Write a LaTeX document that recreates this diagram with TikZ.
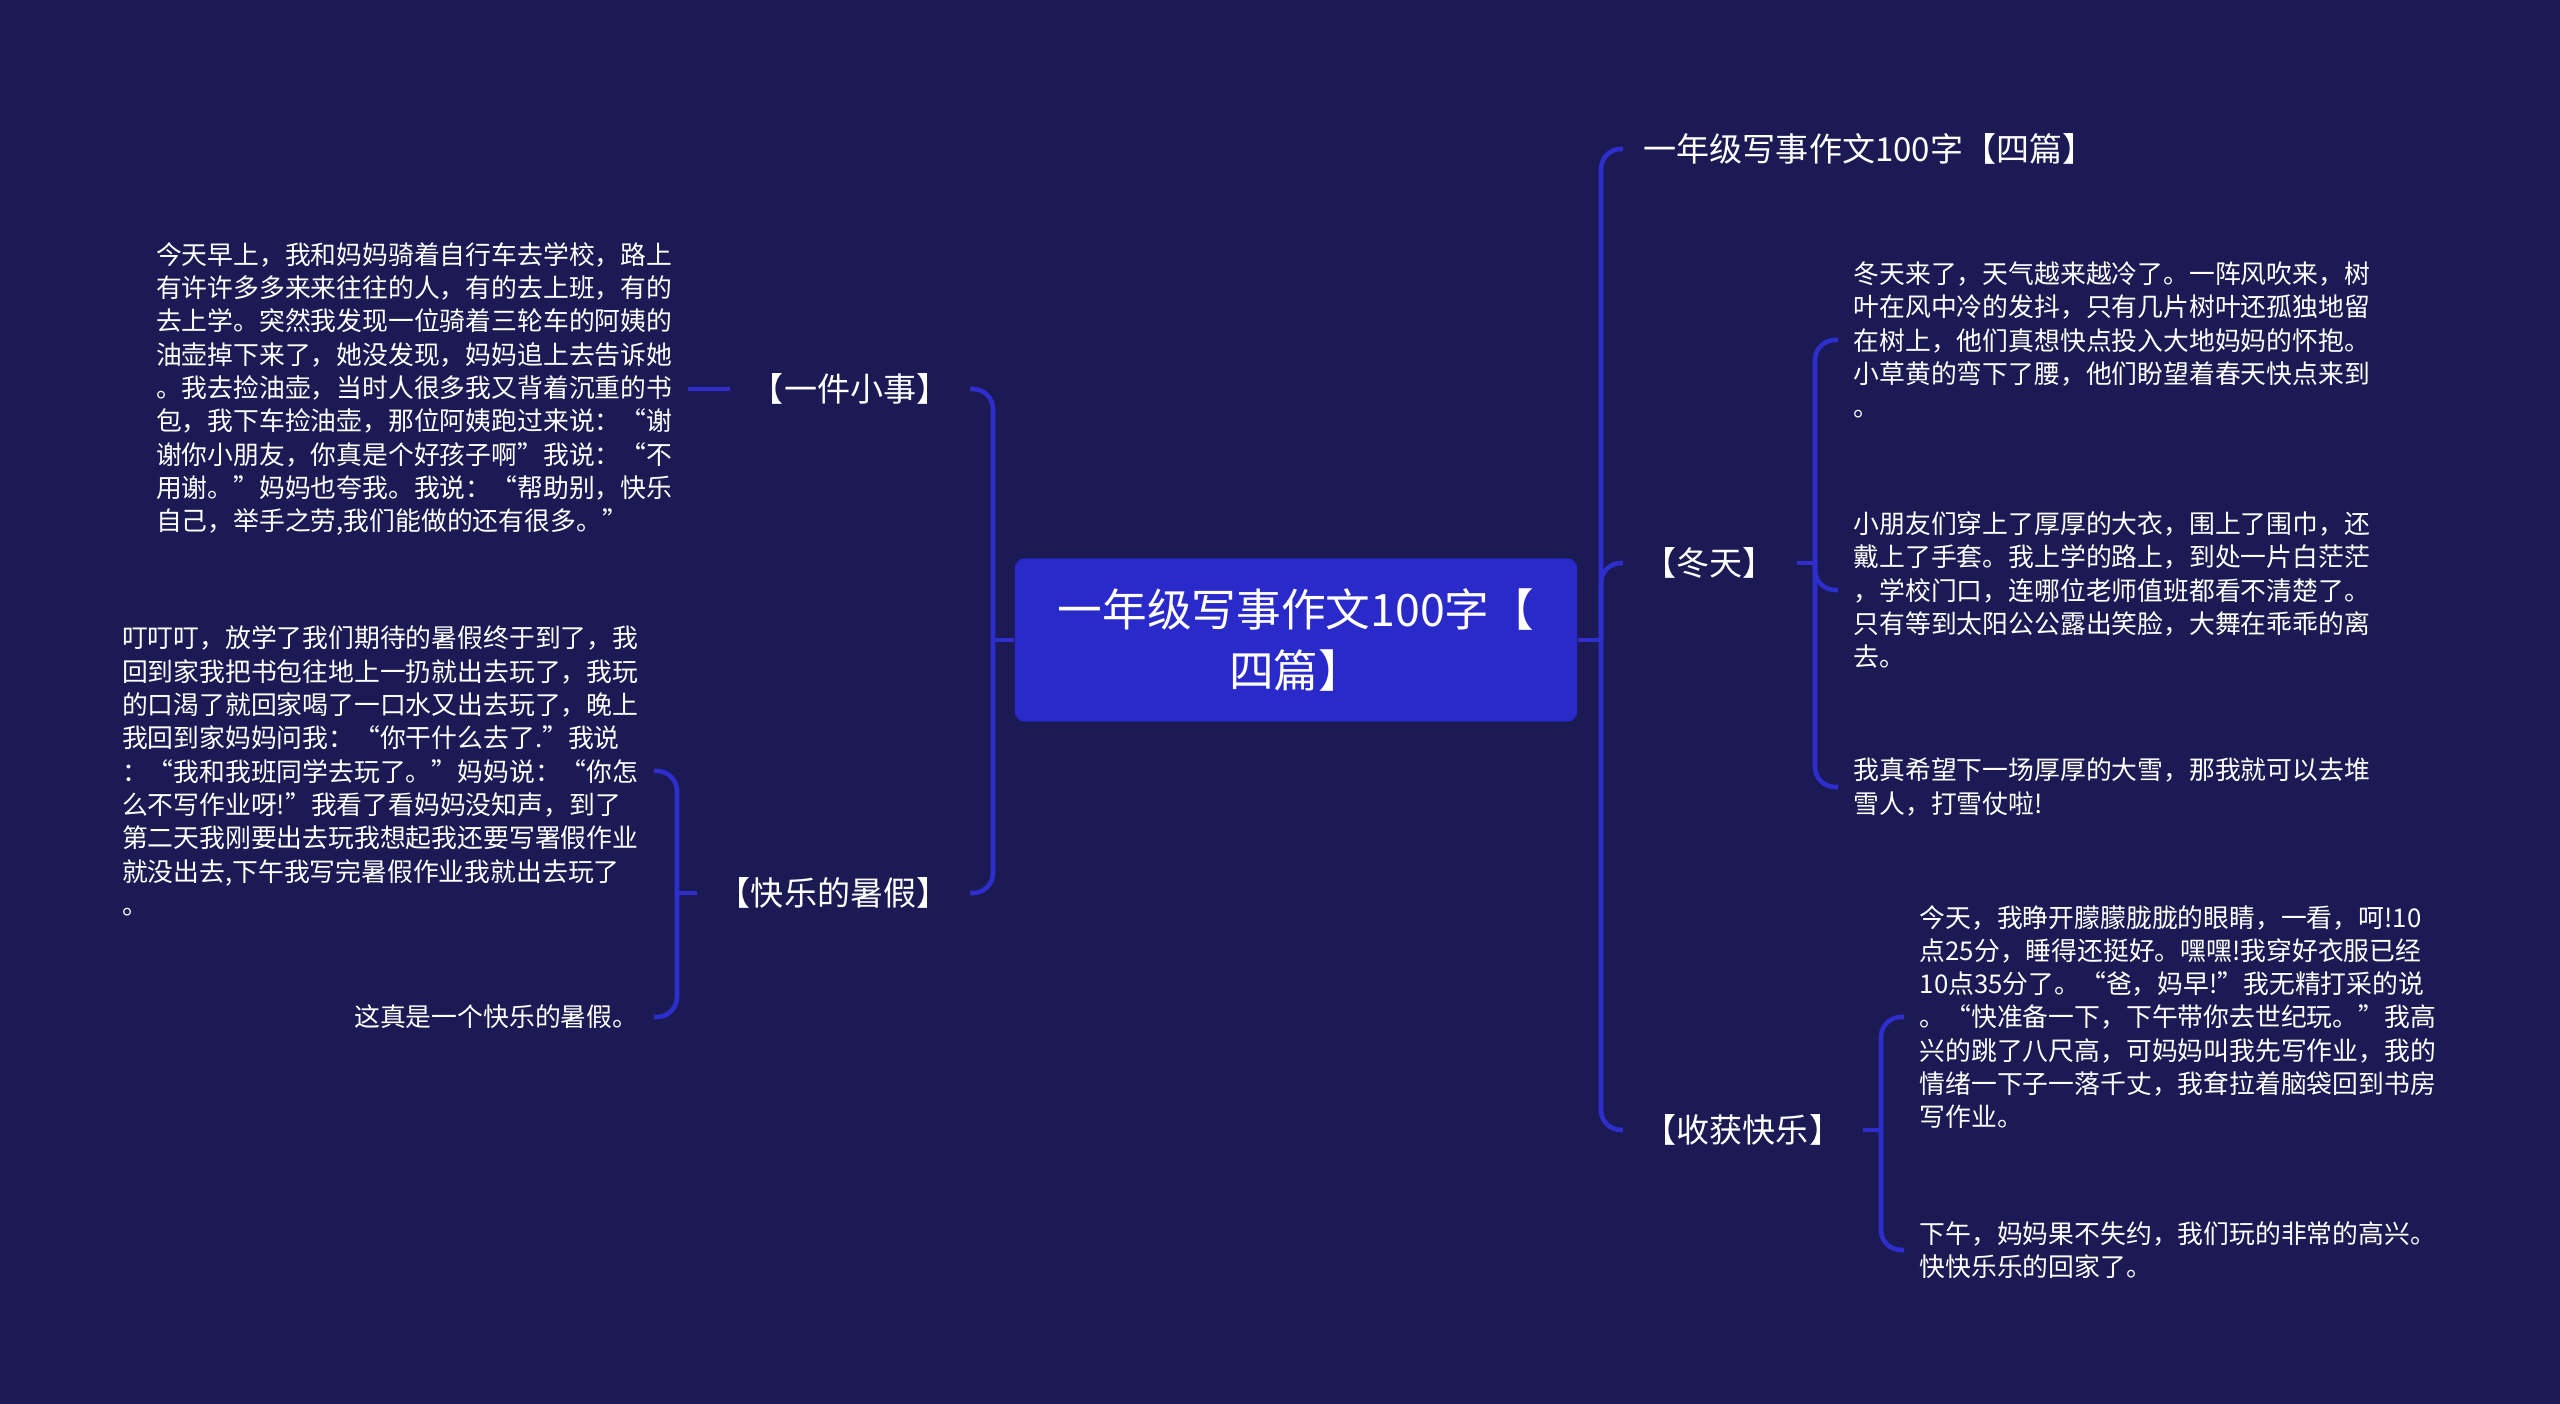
\documentclass[tikz,border=0pt]{standalone}
\usepackage{fontspec}
\setmainfont{Noto Sans CJK SC}
\definecolor{bgc}{HTML}{1B1A55}
\definecolor{boxc}{HTML}{2A2ACB}
\definecolor{linec}{HTML}{2E2ECC}
\tikzset{
  conn/.style={draw=linec, line width=1.3pt, rounded corners=0.2cm},
  txt/.style={text=white, font=\fontsize{7.34}{9.47}\selectfont, align=left, inner xsep=0.15cm, inner ysep=0pt},
  lbl/.style={text=white, font=\fontsize{9.4}{11}\selectfont, inner xsep=0.2cm, inner ysep=0pt},
  ctr/.style={fill=boxc, rounded corners=0.1cm, minimum width=5.62cm, minimum height=1.63cm, align=center, text=white, font=\fontsize{12.7}{17.6}\selectfont},
}
\begin{document}
\begin{tikzpicture}[x=0.01cm, y=-0.01cm]
\fill[bgc] (0,0) rectangle (2560,1404);
\useasboundingbox (0,0) rectangle (2560,1404);

% center
\node[ctr] (c) at (1296,640) {一年级写事作文100字【\\四篇】};

% right side
\coordinate (rj) at (1601,640);
\node[lbl, anchor=west] (r1) at (1623,149) {一年级写事作文100字【四篇】};
\node[lbl, anchor=west] (r2) at (1623,563) {【冬天】};
\node[lbl, anchor=west] (r3) at (1623,1130) {【收获快乐】};
\coordinate (dj) at (1815,563);
\coordinate (sj) at (1881,1130);

\node[txt, anchor=west] (d1) at (1838,340) {冬天来了，天气越来越冷了。一阵风吹来，树\\叶在风中冷的发抖，只有几片树叶还孤独地留\\在树上，他们真想快点投入大地妈妈的怀抱。\\小草黄的弯下了腰，他们盼望着春天快点来到\\。};
\node[txt, anchor=west] (d2) at (1838,590) {小朋友们穿上了厚厚的大衣，围上了围巾，还\\戴上了手套。我上学的路上，到处一片白茫茫\\，学校门口，连哪位老师值班都看不清楚了。\\只有等到太阳公公露出笑脸，大舞在乖乖的离\\去。};
\node[txt, anchor=west] (d3) at (1838,787) {我真希望下一场厚厚的大雪，那我就可以去堆\\雪人，打雪仗啦!};
\node[txt, anchor=west] (s1) at (1904,1017) {今天，我睁开朦朦胧胧的眼睛，一看，呵!10\\点25分，睡得还挺好。嘿嘿!我穿好衣服已经\\10点35分了。“爸，妈早!”我无精打采的说\\。“快准备一下，下午带你去世纪玩。”我高\\兴的跳了八尺高，可妈妈叫我先写作业，我的\\情绪一下子一落千丈，我耷拉着脑袋回到书房\\写作业。};
\node[txt, anchor=west] (s2) at (1904,1250) {下午，妈妈果不失约，我们玩的非常的高兴。\\快快乐乐的回家了。};

% left side
\coordinate (lj) at (993,640);
\node[lbl, anchor=east] (l1) at (970,389) {【一件小事】};
\node[lbl, anchor=east] (l2) at (970,893) {【快乐的暑假】};
\coordinate (kj) at (677,893);
\node[txt, anchor=east] (lt1) at (688,389) {今天早上，我和妈妈骑着自行车去学校，路上\\有许许多多来来往往的人，有的去上班，有的\\去上学。突然我发现一位骑着三轮车的阿姨的\\油壶掉下来了，她没发现，妈妈追上去告诉她\\。我去捡油壶，当时人很多我又背着沉重的书\\包，我下车捡油壶，那位阿姨跑过来说：“谢\\谢你小朋友，你真是个好孩子啊”我说：“不\\用谢。”妈妈也夸我。我说：“帮助别，快乐\\自己，举手之劳,我们能做的还有很多。”};
\node[txt, anchor=east] (lt2) at (654,771) {叮叮叮，放学了我们期待的暑假终于到了，我\\回到家我把书包往地上一扔就出去玩了，我玩\\的口渴了就回家喝了一口水又出去玩了，晚上\\我回到家妈妈问我：“你干什么去了.”我说\\：“我和我班同学去玩了。”妈妈说：“你怎\\么不写作业呀!”我看了看妈妈没知声，到了\\第二天我刚要出去玩我想起我还要写署假作业\\就没出去,下午我写完暑假作业我就出去玩了\\。};
\node[txt, anchor=east] (lt3) at (654,1017) {这真是一个快乐的暑假。};

% connectors
\draw[conn] (c.east) -- (rj);
\draw[conn] (rj) |- (r1.west);
\draw[conn] (rj) |- (r2.west);
\draw[conn] (rj) |- (r3.west);
\draw[conn] (r2.east) -- (dj);
\draw[conn] (dj) |- (d1.west);
\draw[conn] (dj) |- (d2.west);
\draw[conn] (dj) |- (d3.west);
\draw[conn] (r3.east) -- (sj);
\draw[conn] (sj) |- (s1.west);
\draw[conn] (sj) |- (s2.west);
\draw[conn] (c.west) -- (lj);
\draw[conn] (lj) |- (l1.east);
\draw[conn] (lj) |- (l2.east);
\draw[conn] (l1.west) -- (lt1.east);
\draw[conn] (l2.west) -- (kj);
\draw[conn] (kj) |- (lt2.east);
\draw[conn] (kj) |- (lt3.east);
\end{tikzpicture}
\end{document}
